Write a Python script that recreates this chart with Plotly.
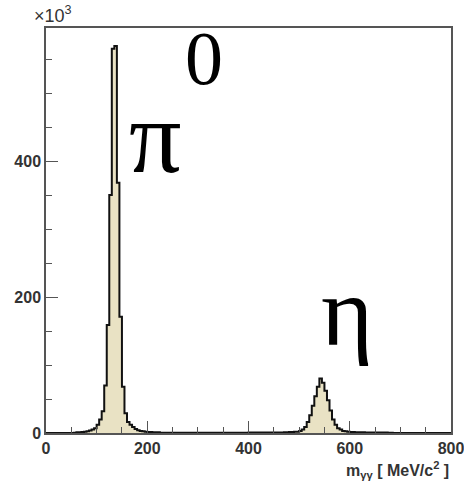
import plotly.graph_objects as go
import numpy as np

# Histogram: 160 bins of 5 MeV from 0 to 800 MeV, counts in units of 10^3
bin_width = 5
bin_low = np.arange(0, 800, bin_width)
counts = [
    # 0-55
    0, 0, 0, 0, 0, 0, 0, 0, 0, 0, 0,
    # 55-100
    0.5, 1, 1, 1.5, 2, 2.5, 3.5, 5, 7,
    # 100-150
    12, 20, 32, 70, 159, 350, 565, 569, 368, 171,
    # 150-225
    68, 29, 16, 12, 9, 6, 4, 3, 2.5, 2, 1.5, 1.5, 1, 1, 1,
    # 225-400
    0.3, 0.3, 0.3, 0.3, 0.3, 0.3, 0.3, 0.3, 0.3, 0.3,
    0.3, 0.3, 0.3, 0.3, 0.3, 0.3, 0.3, 0.3, 0.3, 0.3,
    0.3, 0.3, 0.3, 0.3, 0.3, 0.3, 0.3, 0.3, 0.3, 0.3,
    0.3, 0.3, 0.3, 0.3, 0.3,
    # 400-470
    0.8, 0.8, 0.8, 0.8, 0.8, 0.8, 0.8, 0.8, 0.8, 0.8, 0.8, 0.8, 0.8, 0.8,
    # 470-500
    1, 1.2, 1.3, 1.5, 2, 2,
    # 500-600
    3, 5, 9, 16, 26, 40, 54, 68, 80, 74,
    62, 48, 33, 20, 12, 7, 5, 3, 2.5, 2,
    # 600-685
    1.5, 1.3, 1.2, 1, 1, 1, 0.9, 0.9, 0.8, 0.8, 0.8, 0.7, 0.7, 0.6, 0.6, 0.5, 0.5,
    # 685-800
    0, 0, 0, 0, 0, 0, 0, 0, 0, 0, 0, 0, 0, 0, 0, 0, 0, 0, 0, 0, 0, 0, 0,
]
assert len(counts) == len(bin_low)

x_ticks = [0, 200, 400, 600, 800]
y_ticks = [0, 200, 400]

xs = list(bin_low) + [800]
ys = list(counts) + [counts[-1]]

fig = go.Figure()
fig.add_trace(go.Scatter(
    x=xs, y=ys, mode="lines", line_shape="hv",
    fill="tozeroy", fillcolor="#e9e2c4",
    line=dict(color="#111111", width=2),
    hoverinfo="skip", showlegend=False,
))

axcol = "#555555"
tickfont = dict(family="Liberation Sans, Arial, sans-serif", size=16, color="#333333", weight="bold")

fig.update_layout(
    width=464, height=484,
    margin=dict(l=46, r=13, t=28, b=51, autoexpand=False),
    paper_bgcolor="white", plot_bgcolor="white",
    xaxis=dict(
        range=[0, 800], tickvals=x_ticks, ticks="inside", ticklen=12, tickwidth=1,
        tickcolor=axcol, showline=True, linecolor=axcol, linewidth=1.5, mirror=True,
        showgrid=False, zeroline=False, tickfont=tickfont, automargin=False,
        ticklabeloverflow="allow",
        minor=dict(dtick=50, ticks="inside", ticklen=6, tickcolor=axcol, tickwidth=1, showgrid=False),
    ),
    yaxis=dict(
        range=[0, 595.6], tickvals=y_ticks, ticks="inside", ticklen=12, tickwidth=1,
        tickcolor=axcol, showline=True, linecolor=axcol, linewidth=1.5, mirror=True,
        showgrid=False, zeroline=False, tickfont=tickfont, automargin=False,
        ticklabeloverflow="allow",
        minor=dict(dtick=50, ticks="inside", ticklen=6, tickcolor=axcol, tickwidth=1, showgrid=False),
    ),
)

fig.add_annotation(
    text="×10<sup>3</sup>", xref="paper", yref="paper", x=-0.035, y=1.0,
    xanchor="left", yanchor="bottom", showarrow=False,
    font=dict(family="Liberation Sans, Arial, sans-serif", size=18, color="#333333"),
)
fig.add_annotation(
    text="m<sub>γγ</sub> [ MeV/c<sup>2</sup> ]", xref="paper", yref="paper", x=1.0, y=-0.06,
    xanchor="right", yanchor="top", showarrow=False,
    font=dict(family="Liberation Sans, Arial, sans-serif", size=16, color="#333333", weight="bold"),
)
fig.add_annotation(
    text="π", xref="paper", yref="paper", x=0.27, y=0.733,
    xanchor="center", yanchor="middle", showarrow=False,
    font=dict(family="Liberation Serif, Times New Roman, serif", size=104, color="black"),
)
fig.add_annotation(
    text="0", xref="paper", yref="paper", x=0.39, y=0.925,
    xanchor="center", yanchor="middle", showarrow=False,
    font=dict(family="Liberation Serif, Times New Roman, serif", size=76, color="black"),
)
fig.add_annotation(
    text="η", xref="paper", yref="paper", x=0.743, y=0.30,
    xanchor="center", yanchor="middle", showarrow=False,
    font=dict(family="Liberation Serif, Times New Roman, serif", size=100, color="black"),
)

fig.write_html(
    "out.html",
    config={"displayModeBar": False},
    post_script="document.body.style.margin='0';document.body.style.padding='0';",
)
